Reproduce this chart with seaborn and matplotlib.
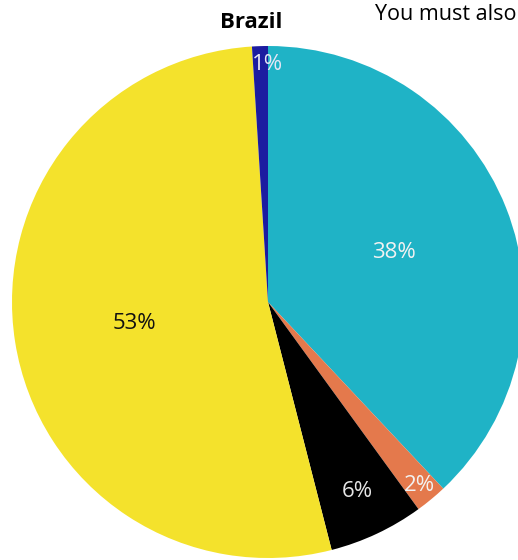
import numpy as np
import matplotlib
matplotlib.use('Agg')
import matplotlib.pyplot as plt
import seaborn as sns

# Brazil share, clockwise from 12 o'clock
labels = ['38%', '2%', '6%', '53%', '1%']
shares = [38, 2, 6, 53, 1]
colors = ['#1fb3c6', '#e4794c', '#000000', '#f4e22c', '#1c1ca0']
text_colors = ['#f2f2f2', '#f2f2f2', '#e6e6e6', '#111111', '#e6e6f5']
label_dist = [0.53, 0.93, 0.82, 0.53, 0.93]

sns.set_theme(style='white')
plt.rcParams['font.family'] = ['Open Sans', 'DejaVu Sans']

fig = plt.figure(figsize=(5.18, 5.6), dpi=100)
ax = fig.add_axes([0, 0, 1, 1])

cx, cy, r = 268, 258, 256
wedges, _ = ax.pie(shares, colors=colors, startangle=90, counterclock=False,
                   radius=r, center=(cx, cy), frame=True,
                   wedgeprops=dict(linewidth=0))
ax.set_xlim(0, 518)
ax.set_ylim(0, 560)
ax.set_aspect('equal')
ax.axis('off')

for w, lab, tc, d in zip(wedges, labels, text_colors, label_dist):
    ang = np.deg2rad((w.theta1 + w.theta2) / 2)
    x = cx + d * r * np.cos(ang)
    if lab == '1%':
        x = cx
    ax.text(x, cy + d * r * np.sin(ang), lab,
            ha='center', va='center', color=tc, fontsize=16)

fig.text(251 / 518, 1 - 22 / 560, 'Brazil', ha='center', va='center',
         fontsize=16, fontweight='bold', color='black')
fig.text(375 / 518, 1 - 14 / 560, 'You must also', ha='left', va='center',
         fontsize=15.5, color='black')

fig.savefig('out.png', dpi=100)
